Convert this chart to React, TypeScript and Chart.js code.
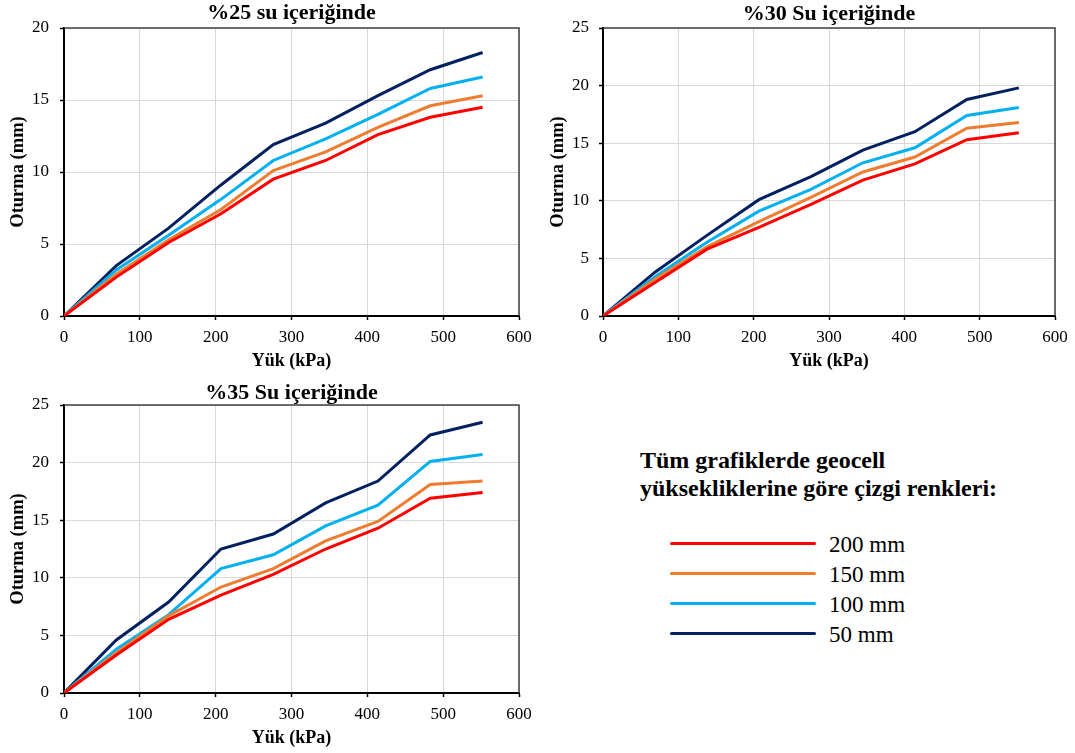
import React, { useEffect, useRef } from "react";
import { Chart, registerables } from "chart.js";

Chart.register(...registerables);

const FONT = "'Liberation Serif', 'Times New Roman', serif";

// Loads (kPa)
const loads = [0, 69, 138, 207, 276, 345, 414, 483, 552];

// Geocell heights (legend) and colours
const seriesLabels = ["200 mm", "150 mm", "100 mm", "50 mm"];
const seriesColors = ["#FF0000", "#ED7D31", "#00B0F0", "#002060"];

// %25 water content – settlement (mm)
const w25_200 = [0, 2.7, 5.1, 7.1, 9.5, 10.8, 12.6, 13.8, 14.5];
const w25_150 = [0, 2.9, 5.3, 7.4, 10.1, 11.4, 13.1, 14.6, 15.3];
const w25_100 = [0, 3.2, 5.6, 8.1, 10.8, 12.3, 14.0, 15.8, 16.6];
const w25_50 = [0, 3.5, 6.1, 9.1, 11.9, 13.4, 15.3, 17.1, 18.3];

// %30 water content
const w30_200 = [0, 2.9, 5.8, 7.7, 9.7, 11.8, 13.2, 15.3, 15.9];
const w30_150 = [0, 3.2, 6.0, 8.2, 10.3, 12.5, 13.8, 16.3, 16.8];
const w30_100 = [0, 3.4, 6.4, 9.1, 11.0, 13.3, 14.6, 17.4, 18.1];
const w30_50 = [0, 3.8, 7.0, 10.1, 12.1, 14.4, 16.0, 18.8, 19.8];

// %35 water content
const w35_200 = [0, 3.3, 6.4, 8.5, 10.3, 12.5, 14.3, 16.9, 17.4];
const w35_150 = [0, 3.5, 6.7, 9.2, 10.8, 13.2, 14.9, 18.1, 18.4];
const w35_100 = [0, 3.8, 6.8, 10.8, 12.0, 14.5, 16.3, 20.1, 20.7];
const w35_50 = [0, 4.6, 7.9, 12.5, 13.8, 16.5, 18.4, 22.4, 23.5];

const titles = ["%25 su içeriğinde", "%30 Su içeriğinde", "%35 Su içeriğinde"];
const xAxisTitle = "Yük (kPa)";
const yAxisTitle = "Oturma (mm)";
const legendTitle1 = "Tüm grafiklerde geocell";
const legendTitle2 = "yüksekliklerine göre çizgi renkleri:";

const titlePlugin = {
  id: "panelTitle",
  afterDraw(chart: any, _args: any, opts: any) {
    const { ctx, chartArea } = chart;
    ctx.save();
    ctx.font = `bold 22px ${FONT}`;
    ctx.fillStyle = "#000";
    ctx.textAlign = "center";
    ctx.textBaseline = "middle";
    ctx.fillText(opts.text, (chartArea.left + chartArea.right) / 2, opts.y);
    ctx.restore();
  },
};

const framePlugin = {
  id: "frame",
  beforeDatasetsDraw(chart: any) {
    const { ctx, chartArea } = chart;
    ctx.save();
    ctx.strokeStyle = "#404040";
    ctx.lineWidth = 1.5;
    ctx.beginPath();
    ctx.moveTo(chartArea.left, chartArea.top);
    ctx.lineTo(chartArea.right, chartArea.top);
    ctx.lineTo(chartArea.right, chartArea.bottom);
    ctx.stroke();
    ctx.restore();
  },
};

type PanelProps = {
  left: number;
  top: number;
  width: number;
  height: number;
  title: string;
  titleY: number;
  series: number[][];
  yMax: number;
  yAxisWidth: number;
  yTickPad: number;
  padding: { left: number; right: number; top: number; bottom: number };
};

function Panel(p: PanelProps) {
  const ref = useRef<HTMLCanvasElement | null>(null);
  useEffect(() => {
    if (!ref.current) return;
    const chart = new Chart(ref.current, {
      type: "line",
      data: {
        datasets: p.series.map((vals, i) => ({
          label: seriesLabels[i],
          data: loads.map((x, j) => ({ x, y: vals[j] })),
          borderColor: seriesColors[i],
          backgroundColor: seriesColors[i],
          borderWidth: 3,
          pointRadius: 0,
          tension: 0,
          fill: false,
        })),
      },
      options: {
        animation: false,
        responsive: false,
        layout: { padding: p.padding },
        plugins: {
          legend: { display: false },
          tooltip: { enabled: false },
          title: { display: false },
          panelTitle: { text: p.title, y: p.titleY },
        } as any,
        scales: {
          x: {
            type: "linear",
            min: 0,
            max: 600,
            afterFit: (s: any) => {
              s.height = 56;
            },
            ticks: {
              stepSize: 100,
              maxRotation: 0,
              autoSkip: false,
              padding: 7,
              color: "#000",
              font: { family: FONT, size: 17 },
            },
            grid: { color: "#d9d9d9", lineWidth: 1, tickColor: "#000", tickLength: 4, tickWidth: 1.5 },
            border: { color: "#000", width: 2 },
            title: {
              display: true,
              text: xAxisTitle,
              color: "#000",
              font: { family: FONT, size: 18, weight: "bold" },
              padding: { top: 0, bottom: 0 },
            },
          },
          y: {
            type: "linear",
            min: 0,
            max: p.yMax,
            afterFit: (s: any) => {
              s.width = p.yAxisWidth;
            },
            ticks: {
              stepSize: 5,
              padding: p.yTickPad,
              color: "#000",
              font: { family: FONT, size: 17 },
            },
            grid: { color: "#d9d9d9", lineWidth: 1, tickColor: "#000", tickLength: 4, tickWidth: 1.5 },
            border: { color: "#000", width: 2 },
            title: {
              display: true,
              text: yAxisTitle,
              color: "#000",
              font: { family: FONT, size: 18.5, weight: "bold" },
              padding: { top: 7, bottom: 0 },
            },
          },
        },
      } as any,
      plugins: [titlePlugin, framePlugin],
    });
    return () => chart.destroy();
  }, []);
  return (
    <canvas
      ref={ref}
      width={p.width}
      height={p.height}
      style={{ position: "absolute", left: p.left, top: p.top, width: p.width, height: p.height }}
    />
  );
}

export default function App() {
  useEffect(() => {
    document.body.style.margin = "0";
    document.body.style.background = "#fff";
  }, []);
  return (
    <div style={{ position: "absolute", left: 0, top: 0, width: 1075, height: 753, background: "#fff", overflow: "hidden" }}>
      <Panel
        left={0}
        top={0}
        width={540}
        height={380}
        title={titles[0]}
        titleY={13}
        series={[w25_200, w25_150, w25_100, w25_50]}
        yMax={20}
        yAxisWidth={64}
        yTickPad={11}
        padding={{ left: 0, right: 21, top: 28, bottom: 8 }}
      />
      <Panel
        left={540}
        top={0}
        width={535}
        height={380}
        title={titles[1]}
        titleY={14}
        series={[w30_200, w30_150, w30_100, w30_50]}
        yMax={25}
        yAxisWidth={63}
        yTickPad={10}
        padding={{ left: 0, right: 20, top: 28, bottom: 8 }}
      />
      <Panel
        left={0}
        top={380}
        width={540}
        height={373}
        title={titles[2]}
        titleY={13}
        series={[w35_200, w35_150, w35_100, w35_50]}
        yMax={25}
        yAxisWidth={64}
        yTickPad={11}
        padding={{ left: 0, right: 21, top: 25, bottom: 4 }}
      />
      <div
        style={{
          position: "absolute",
          left: 640,
          top: 446,
          fontFamily: FONT,
          fontWeight: "bold",
          fontSize: 24,
          lineHeight: "28px",
          color: "#000",
          whiteSpace: "nowrap",
        }}
      >
        {legendTitle1}
        <br />
        {legendTitle2}
      </div>
      {seriesLabels.map((lab, i) => {
        const y = 543 + i * 30;
        return (
          <React.Fragment key={lab}>
            <div
              style={{
                position: "absolute",
                left: 670,
                top: y - 1.5,
                width: 146,
                height: 3.5,
                borderRadius: 2,
                background: seriesColors[i],
              }}
            />
            <div
              style={{
                position: "absolute",
                left: 829,
                top: y - 12,
                fontFamily: FONT,
                fontSize: 23,
                lineHeight: "28px",
                color: "#000",
                whiteSpace: "nowrap",
              }}
            >
              {lab}
            </div>
          </React.Fragment>
        );
      })}
    </div>
  );
}
